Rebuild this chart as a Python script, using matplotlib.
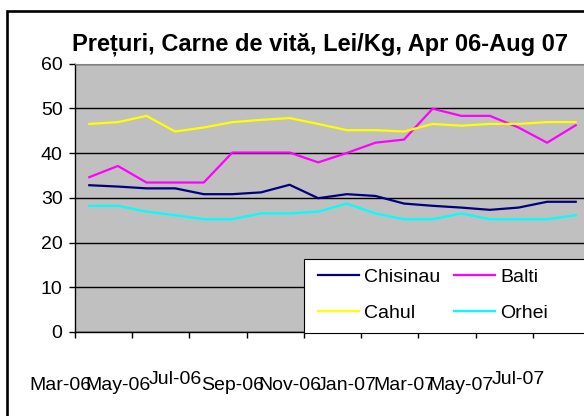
import numpy as np
import matplotlib
matplotlib.use('Agg')
import matplotlib.pyplot as plt
from matplotlib.patches import Rectangle
from matplotlib.transforms import blended_transform_factory

plt.rcParams['font.family'] = ['Liberation Sans', 'DejaVu Sans']

# Preturi lunare, Lei/Kg
chisinau = [32.8, 32.5, 32.1, 32.1, 30.8, 30.8, 31.2, 32.9, 29.9,
            30.8, 30.4, 28.7, 28.2, 27.8, 27.3, 27.8, 29.1, 29.1]
balti = [34.6, 37.1, 33.4, 33.4, 33.4, 40.1, 40.1, 40.1, 37.9,
         40.0, 42.3, 43.0, 49.9, 48.3, 48.3, 45.7, 42.3, 46.2]
cahul = [46.5, 46.9, 48.3, 44.8, 45.7, 46.9, 47.4, 47.8, 46.5,
         45.1, 45.1, 44.8, 46.5, 46.1, 46.5, 46.5, 46.9, 46.9]
orhei = [28.2, 28.2, 26.9, 26.1, 25.2, 25.2, 26.5, 26.5, 26.9,
         28.7, 26.5, 25.2, 25.2, 26.5, 25.2, 25.2, 25.2, 26.1]
etichete = ['Mar-06', 'May-06', 'Jul-06', 'Sep-06', 'Nov-06',
            'Jan-07', 'Mar-07', 'May-07', 'Jul-07']

W, H = 584, 416

def fx(px):
    return px / W

def fy(py):
    return 1 - py / H

fig = plt.figure(figsize=(W / 100, H / 100), dpi=100)

# chenarul graficului (taiat in dreapta si jos)
fig.patches.append(Rectangle((fx(7), fy(430)), 1.2, fy(10.5) - fy(430),
                             transform=fig.transFigure, fill=False,
                             edgecolor='black', lw=1.9))

ax = fig.add_axes([fx(75), fy(332), 515 / W, (332 - 63.5) / H])
ax.set_facecolor('#C0C0C0')

x = np.arange(len(chisinau)) + 0.5
l1, = ax.plot(x, chisinau, color='#000080', lw=1.6, label='Chisinau')
l2, = ax.plot(x, balti, color='#FF00FF', lw=1.6, label='Balti')
l3, = ax.plot(x, cahul, color='#FFFF00', lw=1.6, label='Cahul')
l4, = ax.plot(x, orhei, color='#00FFFF', lw=1.6, label='Orhei')

ax.set_xlim(0, len(chisinau))
ax.set_ylim(0, 60)
ax.set_yticks(range(0, 61, 10))
ax.set_xticks(range(0, len(chisinau) + 1, 2))
ax.set_xticklabels([])
ax.yaxis.grid(True, color='black', lw=1)
ax.set_axisbelow(True)
ax.tick_params(axis='both', direction='out', length=4, width=1,
               color='black', labelsize=14, pad=5)
ax.spines['top'].set_color('#808080')
ax.spines['right'].set_visible(False)
for s in ['left', 'bottom']:
    ax.spines[s].set_color('black')
    ax.spines[s].set_linewidth(1)

# etichetele lunilor, ca in Excel (decalate)
trans = blended_transform_factory(ax.transData, ax.transAxes)
for k, et in enumerate(etichete):
    yb = -0.195 if et.startswith('Jul') else -0.215
    ax.text(2 * k - 0.5, yb, et, transform=trans, ha='center',
            va='baseline', fontsize=14, clip_on=False)

fig.text(fx(320), fy(50), 'Prețuri, Carne de vită, Lei/Kg, Apr 06-Aug 07',
         ha='center', va='baseline', fontsize=17, fontweight='bold')

# legenda
fig.patches.append(Rectangle((fx(303.5), fy(333)), 0.6, fy(258.5) - fy(333),
                             transform=fig.transFigure, facecolor='white',
                             edgecolor='black', lw=0.8, zorder=3))
leg = fig.legend(handles=[l1, l3, l2, l4], ncol=2, loc='upper left',
                 bbox_to_anchor=(fx(318), fy(268)), frameon=False,
                 fontsize=14, borderpad=0, borderaxespad=0,
                 handlelength=2.1, handletextpad=0.26, columnspacing=0.72,
                 labelspacing=0.95)
leg.set_zorder(4)

plt.savefig('out.png', dpi=100)
